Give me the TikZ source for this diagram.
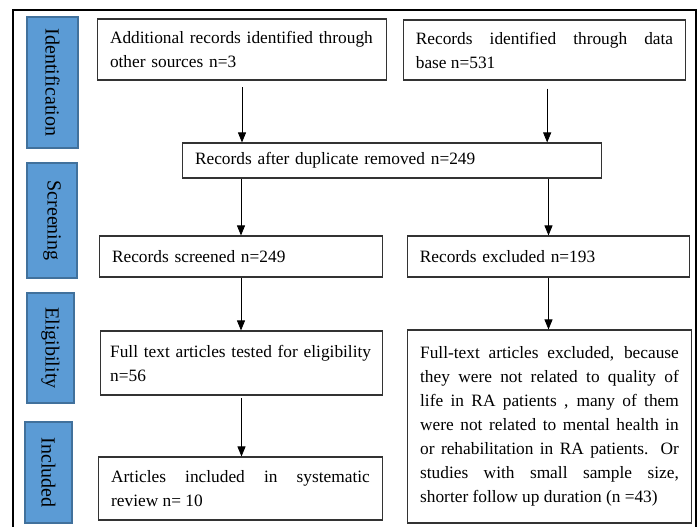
\documentclass[tikz,border=0pt]{standalone}
\usepackage{fontspec}
\setmainfont{Liberation Serif}
\usepackage{tikz}
\usetikzlibrary{arrows.meta}
\hyphenpenalty=10000
\exhyphenpenalty=10000
\definecolor{stageblue}{RGB}{91,155,213}
\definecolor{stageedge}{RGB}{65,113,156}
\tikzstyle{record} = [
	rectangle,
	draw=black!80,
	line width=0.8pt,
	fill=white,
	inner xsep=9.5pt,
	inner ysep=0pt,
	font=\fontsize{13}{18}\selectfont,
	align=justify
]
\tikzstyle{stage} = [
	rectangle,
	rotate=-90,
	draw=stageedge,
	fill=stageblue,
	line width=0.8pt,
	inner sep=0pt,
	font=\fontsize{15}{17}\selectfont
]
\tikzstyle{arrow} = [line width=0.6pt, -{Triangle[width=6pt,length=7.5pt]}]

\begin{document}
\begin{tikzpicture}[x=0.75pt, y=-0.75pt]
        \useasboundingbox (0,0) rectangle (700,527);
        \draw [line width=1.5pt] (12.5,527) -- (12.5,10) -- (696,10) -- (696,527);
        % stages
        \node (idstage) [stage, minimum width=98.25pt, minimum height=38.25pt] at (52.5,82.5) {Identification};
        \node (scstage) [stage, minimum width=86.25pt, minimum height=37.5pt] at (52,220.5) {Screening};
        \node (elstage) [stage, minimum width=82.5pt, minimum height=35.25pt] at (50.5,348) {Eligibility};
        \node (instage) [stage, minimum width=75.75pt, minimum height=35.25pt] at (48.5,472.5) {Included};
        % records
        \node (addl) [record, text width=198pt, minimum height=45.75pt, align=left] at (242,49.5)
          {Additional records identified through\\other sources n=3};
        \node (db) [record, text width=193pt, minimum height=45pt] at (544.5,50)
          {Records identified through data\linebreak base n=531};
        \node (dup) [record, text width=295.5pt, minimum height=26.25pt, align=left] at (392,160.5)
          {Records after duplicate removed n=249};
        \node (screened) [record, text width=193.5pt, minimum height=30.75pt, align=left] at (241,256.5)
          {Records screened n=249};
        \node (excluded) [record, text width=193pt, minimum height=30.75pt, align=left] at (548.5,256.5)
          {Records excluded n=193};
        \node (fulltext) [record, text width=197pt, inner xsep=7.5pt, minimum height=48pt, align=left] at (241.5,363)
          {Full text articles tested for eligibility\\n=56};
        \node (ftexcl) [record, text width=194pt, minimum height=144.75pt] at (549.5,426.5)
          {Full-text articles excluded, because\linebreak
           they were not related to quality of\linebreak
           life in RA patients , many of them\linebreak
           were not related to mental health in\linebreak
           or rehabilitation in RA patients. Or\linebreak
           studies with small sample size,\linebreak
           shorter follow up duration (n =43)};
        \node (incl) [record, text width=194pt, minimum height=47.25pt] at (240.5,488.5)
          {Articles included in systematic\linebreak review n= 10};
        % connectors
        \draw [arrow] ([yshift=-5pt]addl.south) -- (addl.south |- dup.north);
        \draw [arrow] ([xshift=2pt, yshift=-6pt]db.south) -- ([xshift=2pt]db.south |- dup.north);
        \draw [arrow] (dup.south -| screened.north) -- (screened.north);
        \draw [arrow] (dup.south -| excluded.north) -- (excluded.north);
        \draw [arrow] (screened.south) -- (screened.south |- fulltext.north);
        \draw [arrow] (excluded.south) -- (excluded.south |- ftexcl.north);
        \draw [arrow] ([yshift=-2pt]fulltext.south) -- (fulltext.south |- incl.north);
      \end{tikzpicture}
\end{document}
